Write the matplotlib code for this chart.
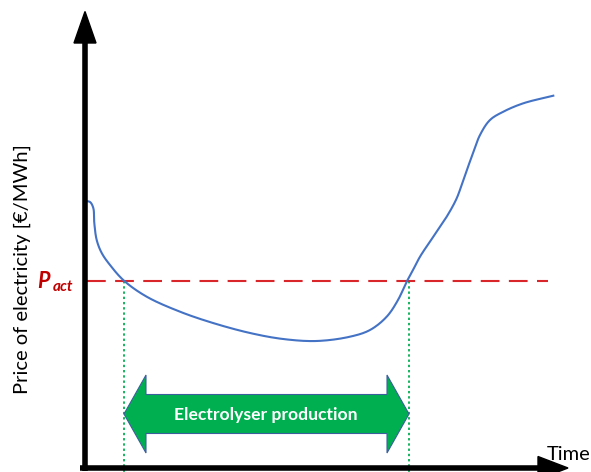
import matplotlib
matplotlib.use("Agg")
import matplotlib.pyplot as plt
from matplotlib.patches import Polygon
import numpy as np

plt.rcParams['font.family'] = ['Lato', 'DejaVu Sans']

# Price curve (schematic, in picture units: x = time, y = price, y grows downward)
curve_x = [85, 90, 93.3, 94.3, 96.7, 101.7, 110, 124, 146.7, 180, 213, 250, 283,
           316.7, 350, 370, 386.7, 398, 406.7, 413, 420, 433.3, 446.7, 456.7,
           463.3, 471.7, 480, 490, 503.3, 523.3, 553.3]
curve_y = [201, 202, 208, 223, 240, 253, 265, 280.7, 296.7, 311.7, 323, 333, 339,
           341, 336.7, 330, 316.7, 300, 281.7, 270, 256.7, 236.7, 216.7, 198.3,
           180, 156.7, 135, 120, 111.7, 103.3, 95.7]

p_act = 281
t_start = 124
t_end = 409

ylabel = "Price of electricity [€/MWh]"
xlabel = "Time"
band_label = "Electrolyser production"


def catmull_rom(xs, ys, n=20, alpha=0.5):
    pts = np.column_stack([xs, ys]).astype(float)
    pts = np.vstack([2 * pts[0] - pts[1], pts, 2 * pts[-1] - pts[-2]])
    out = []
    for i in range(1, len(pts) - 2):
        p0, p1, p2, p3 = pts[i - 1], pts[i], pts[i + 1], pts[i + 2]
        t0 = 0.0
        t1 = t0 + np.linalg.norm(p1 - p0) ** alpha
        t2 = t1 + np.linalg.norm(p2 - p1) ** alpha
        t3 = t2 + np.linalg.norm(p3 - p2) ** alpha
        t = np.linspace(t1, t2, n, endpoint=False)[:, None]
        a1 = (t1 - t) / (t1 - t0) * p0 + (t - t0) / (t1 - t0) * p1
        a2 = (t2 - t) / (t2 - t1) * p1 + (t - t1) / (t2 - t1) * p2
        a3 = (t3 - t) / (t3 - t2) * p2 + (t - t2) / (t3 - t2) * p3
        b1 = (t2 - t) / (t2 - t0) * a1 + (t - t0) / (t2 - t0) * a2
        b2 = (t3 - t) / (t3 - t1) * a2 + (t - t1) / (t3 - t1) * a3
        c = (t2 - t) / (t2 - t1) * b1 + (t - t1) / (t2 - t1) * b2
        out.append(c)
    out.append(pts[-2][None, :])
    out = np.vstack(out)
    return out[:, 0], out[:, 1]


fig = plt.figure(figsize=(5.91, 4.72), dpi=100)
ax = fig.add_axes([0, 0, 1, 1])
ax.set_xlim(0, 591)
ax.set_ylim(472, 0)
ax.axis('off')

# axes with arrows
ax_x0, ax_y0 = 85, 468
ax.plot([ax_x0, ax_x0], [ax_y0 + 3, 40], color='black', lw=4, solid_capstyle='butt', zorder=5)
ax.add_patch(Polygon([[74, 43], [96, 43], [85, 11.5]], closed=True, color='black', zorder=5))
ax.plot([80, 540], [ax_y0, ax_y0], color='black', lw=4, solid_capstyle='butt', zorder=5)
ax.add_patch(Polygon([[538, 456.5], [538, 479.5], [568, 468]], closed=True, color='black', zorder=5))

# threshold line
ax.plot([ax_x0 + 2, 548], [p_act, p_act], color='#D9262B', lw=1.5, dashes=(9, 4.5), zorder=3)

# vertical dotted lines
for xv in (t_start, t_end):
    ax.plot([xv, xv], [p_act, 472], color='#00B050', lw=1.3, dashes=(1.3, 1.6), zorder=2)

# price curve
sx, sy = catmull_rom(curve_x, curve_y)
ax.plot(sx, sy, color='#4472C4', lw=1.5, zorder=4)

# double arrow
yc = 414
body_h = 19.5
head_h = 39
head_len = 22
arrow_pts = [[t_start, yc], [t_start + head_len, yc - head_h], [t_start + head_len, yc - body_h],
             [t_end - head_len, yc - body_h], [t_end - head_len, yc - head_h], [t_end, yc],
             [t_end - head_len, yc + head_h], [t_end - head_len, yc + body_h],
             [t_start + head_len, yc + body_h], [t_start + head_len, yc + head_h]]
ax.add_patch(Polygon(arrow_pts, closed=True, facecolor='#00B050', edgecolor='#3A5F9A',
                     lw=0.8, zorder=6))
ax.text((t_start + t_end) / 2 - 1, yc + 1, band_label, color='white', fontsize=12.6,
        fontweight='bold', ha='center', va='center', zorder=7)

# labels
ax.text(22, 269, ylabel, rotation=90, fontsize=14.5, ha='center', va='center')
ax.text(547, 460, xlabel, fontsize=14.5, ha='left', va='baseline')
ax.text(37, 288, "P", fontsize=15.5, fontweight='bold', fontstyle='italic', color='#C00000',
        ha='left', va='baseline')
ax.text(52.5, 291, "act", fontsize=11, fontweight='bold', fontstyle='italic', color='#C00000',
        ha='left', va='baseline')

fig.savefig('out.png', dpi=100)
